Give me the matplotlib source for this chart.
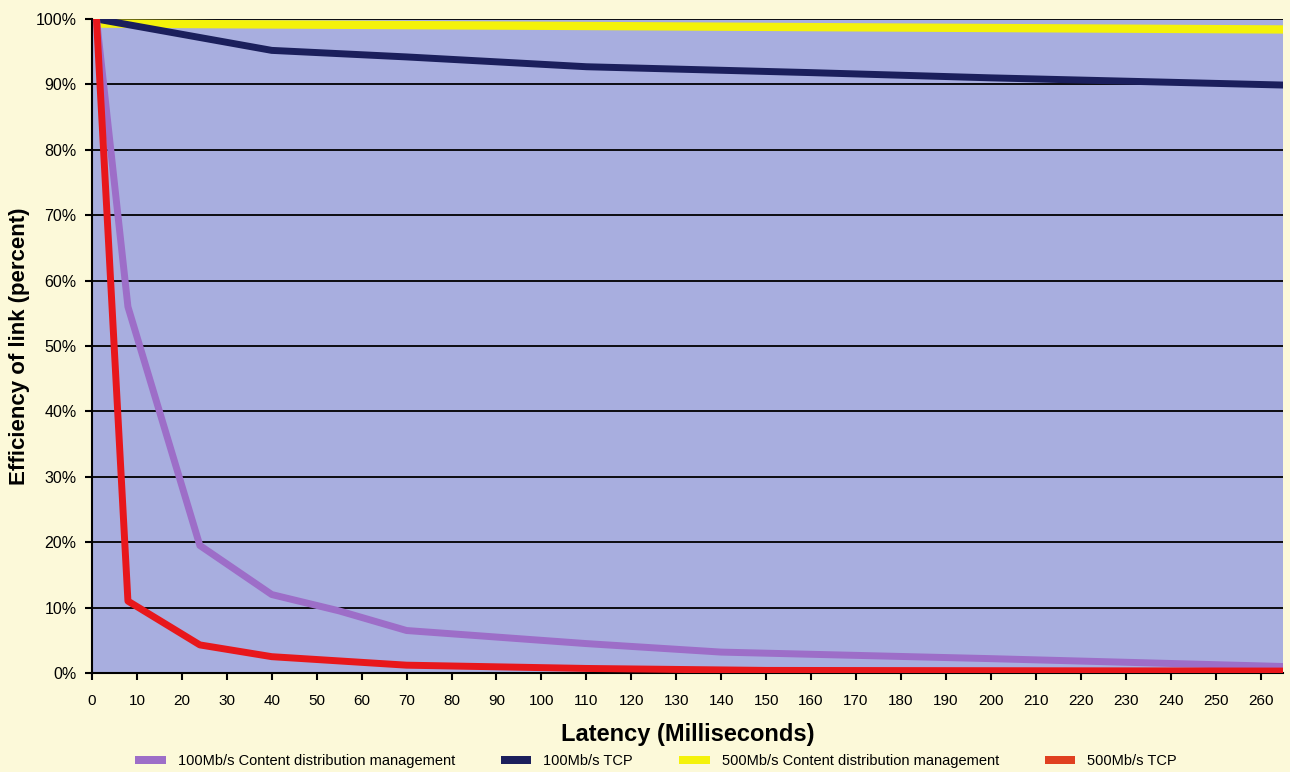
import matplotlib
matplotlib.use("Agg")
from matplotlib import pyplot as plt
from matplotlib.patches import Patch

# Latency (ms) and link efficiency (%)
cdm100_x = [1, 8, 24, 40, 55, 70, 110, 140, 200, 265]
cdm100_y = [100, 56, 19.5, 12, 9.5, 6.5, 4.5, 3.2, 2.2, 1.0]

tcp100_x = [1, 40, 70, 110, 160, 200, 265]
tcp100_y = [100, 95.2, 94.2, 92.7, 91.8, 91.0, 89.9]

cdm500_x = [1, 265]
cdm500_y = [99.3, 98.4]

tcp500_x = [1, 8, 24, 40, 70, 110, 150, 265]
tcp500_y = [100, 11, 4.3, 2.5, 1.2, 0.7, 0.4, 0.3]

x_ticks = list(range(0, 261, 10))
y_ticks = list(range(0, 101, 10))
y_labels = [f"{v}%" for v in y_ticks]

labels = ["100Mb/s Content distribution management", "100Mb/s TCP",
          "500Mb/s Content distribution management", "500Mb/s TCP"]
colors = ["#9d6ec8", "#1b1f5c", "#f4f20a", "#e8171b"]

font = ["Liberation Sans", "DejaVu Sans"]

fig = plt.figure(figsize=(12.9, 7.72), dpi=100, facecolor="#fcf9d9")
ax = fig.add_axes([0.0713, 0.1282, 0.9233, 0.8472])
ax.set_facecolor("#a8aedf")

# horizontal black grid lines
for v in y_ticks[1:]:
    ax.axhline(v, color="black", lw=1.3, zorder=1)

ax.plot(cdm500_x, cdm500_y, color=colors[2], lw=6, zorder=3, solid_capstyle="butt")
ax.plot(tcp100_x, tcp100_y, color=colors[1], lw=5, zorder=4)
ax.plot(cdm100_x, cdm100_y, color=colors[0], lw=5, zorder=5)
ax.plot(tcp500_x, tcp500_y, color=colors[3], lw=5, zorder=6)

ax.set_xlim(0, 265)
ax.set_ylim(0, 100)
ax.set_xticks(x_ticks)
ax.set_xticklabels([str(v) for v in x_ticks], family=font, fontsize=11)
ax.set_yticks(y_ticks)
ax.set_yticklabels(y_labels, family=font, fontsize=11.5)
ax.tick_params(axis="both", direction="out", length=5, width=1.5, color="black")
ax.tick_params(axis="x", pad=10)
ax.tick_params(axis="y", pad=6)

for s in ["top", "right"]:
    ax.spines[s].set_visible(False)
for s in ["left", "bottom"]:
    ax.spines[s].set_linewidth(1.5)

ax.set_xlabel("Latency (Milliseconds)", family=font, fontweight="bold", fontsize=17, labelpad=11)
fig.text(20 / 1290, 0.552, "Efficiency of link (percent)", family=font, fontweight="bold",
         fontsize=16, rotation=90, ha="center", va="center")

handles = [Patch(facecolor=c, edgecolor="none") for c in ["#9d6ec8", "#1b1f5c", "#f4f20a", "#e04020"]]
fig.legend(handles, labels, loc="lower center", bbox_to_anchor=(0.5085, -0.012), ncol=4,
           frameon=False, prop={"family": font, "size": 10.5},
           handlelength=2.1, handleheight=0.55, columnspacing=3.15, handletextpad=0.82)

fig.savefig("out.png", dpi=100, facecolor=fig.get_facecolor())
